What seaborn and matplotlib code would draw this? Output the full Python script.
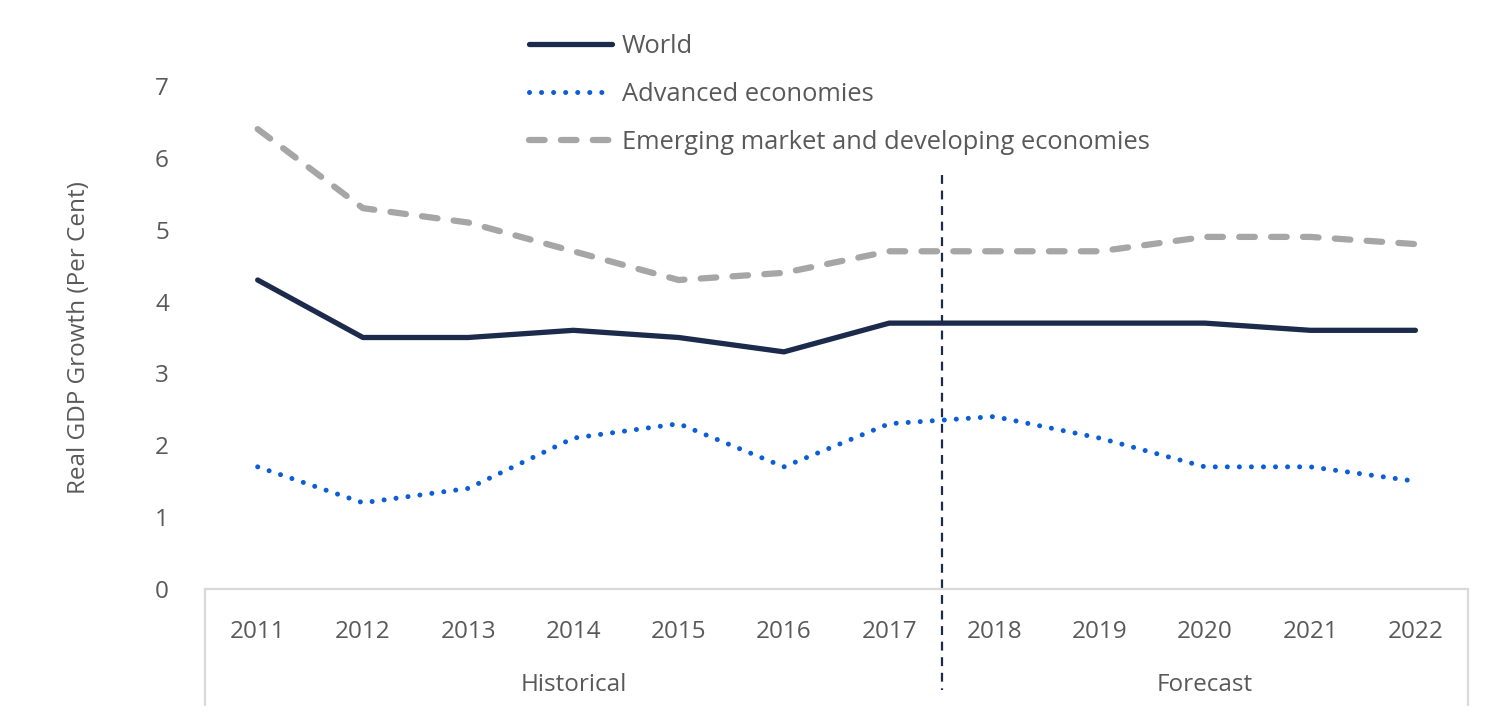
import matplotlib
matplotlib.use('Agg')
import matplotlib.pyplot as plt
import matplotlib.transforms as mtransforms
import seaborn as sns
import pandas as pd

'''Data read from the chart'''
years = ['2011', '2012', '2013', '2014', '2015', '2016', '2017',
         '2018', '2019', '2020', '2021', '2022']
world = [4.3, 3.5, 3.5, 3.6, 3.5, 3.3, 3.7, 3.7, 3.7, 3.7, 3.6, 3.6]
advanced = [1.7, 1.2, 1.4, 2.1, 2.3, 1.7, 2.3, 2.4, 2.1, 1.7, 1.7, 1.5]
emerging = [6.4, 5.3, 5.1, 4.7, 4.3, 4.4, 4.7, 4.7, 4.7, 4.9, 4.9, 4.8]
periods = ['Historical', 'Forecast']
n_hist = 7

df = pd.DataFrame({'pos': range(len(years)), 'year': years,
                   'World': world, 'Advanced economies': advanced,
                   'Emerging market and developing economies': emerging})

sns.set_theme(style='white')
plt.rcParams['font.family'] = ['Open Sans', 'DejaVu Sans']
text_col = '#595959'

fig = plt.figure(figsize=(15, 7.19), dpi=100)
ax = fig.add_axes([0.1367, 0.1808, 0.842, 0.6996])

sns.lineplot(data=df, x='pos', y='World', ax=ax, color='#1c2b4b',
             linewidth=3.8, solid_capstyle='round', label='World')
sns.lineplot(data=df, x='pos', y='Advanced economies', ax=ax, color='#0b5ed7',
             linewidth=3.6, linestyle=(0, (0.01, 2.4)), dash_capstyle='round',
             label='Advanced economies')
sns.lineplot(data=df, x='pos', y='Emerging market and developing economies', ax=ax,
             color='#a6a6a6', linewidth=4.5, linestyle=(0, (2.5, 2.6)),
             dash_capstyle='round', label='Emerging market and developing economies')

ax.set_xlim(-0.5, len(years) - 0.5)
ax.set_ylim(0, 7)
ax.set_yticks(range(0, 8))
ax.set_xticks(range(len(years)))
ax.set_xticklabels(years)
ax.tick_params(axis='both', length=0, labelsize=17.5, colors=text_col)
ax.tick_params(axis='x', pad=22)
ax.tick_params(axis='y', pad=26)
ax.set_xlabel('')
ax.set_ylabel('Real GDP Growth (Per Cent)', fontsize=17.5, color=text_col, labelpad=46)

for s in ['top', 'right', 'left']:
    ax.spines[s].set_visible(False)
ax.spines['bottom'].set_color('#d9d9d9')
ax.spines['bottom'].set_linewidth(1.6)

'''Category box lines and period labels below the axis'''
trans = mtransforms.blended_transform_factory(ax.transData, ax.transAxes)
for xv in [-0.5, len(years) - 0.5]:
    ax.plot([xv, xv], [0, -0.23], transform=trans, color='#d9d9d9', lw=1.6, clip_on=False)
ax.plot([n_hist - 0.5, n_hist - 0.5], [0.823, -0.2], transform=trans, color='#1c2b4b',
        lw=1.6, linestyle=(0, (4, 3)), clip_on=False)
ax.text((n_hist - 1) / 2, -0.19, periods[0], transform=trans, ha='center', va='center',
        fontsize=17.5, color=text_col)
ax.text((n_hist + len(years) - 1) / 2, -0.19, periods[1], transform=trans, ha='center',
        va='center', fontsize=17.5, color=text_col)

leg = ax.legend(loc='upper left', bbox_to_anchor=(0.3405, 0.978), bbox_transform=fig.transFigure,
                frameon=False, fontsize=18.4, handlelength=3.25, handletextpad=0.4,
                labelspacing=0.9, borderaxespad=0.3)
for t in leg.get_texts():
    t.set_color(text_col)

fig.savefig('out.png', dpi=100)
